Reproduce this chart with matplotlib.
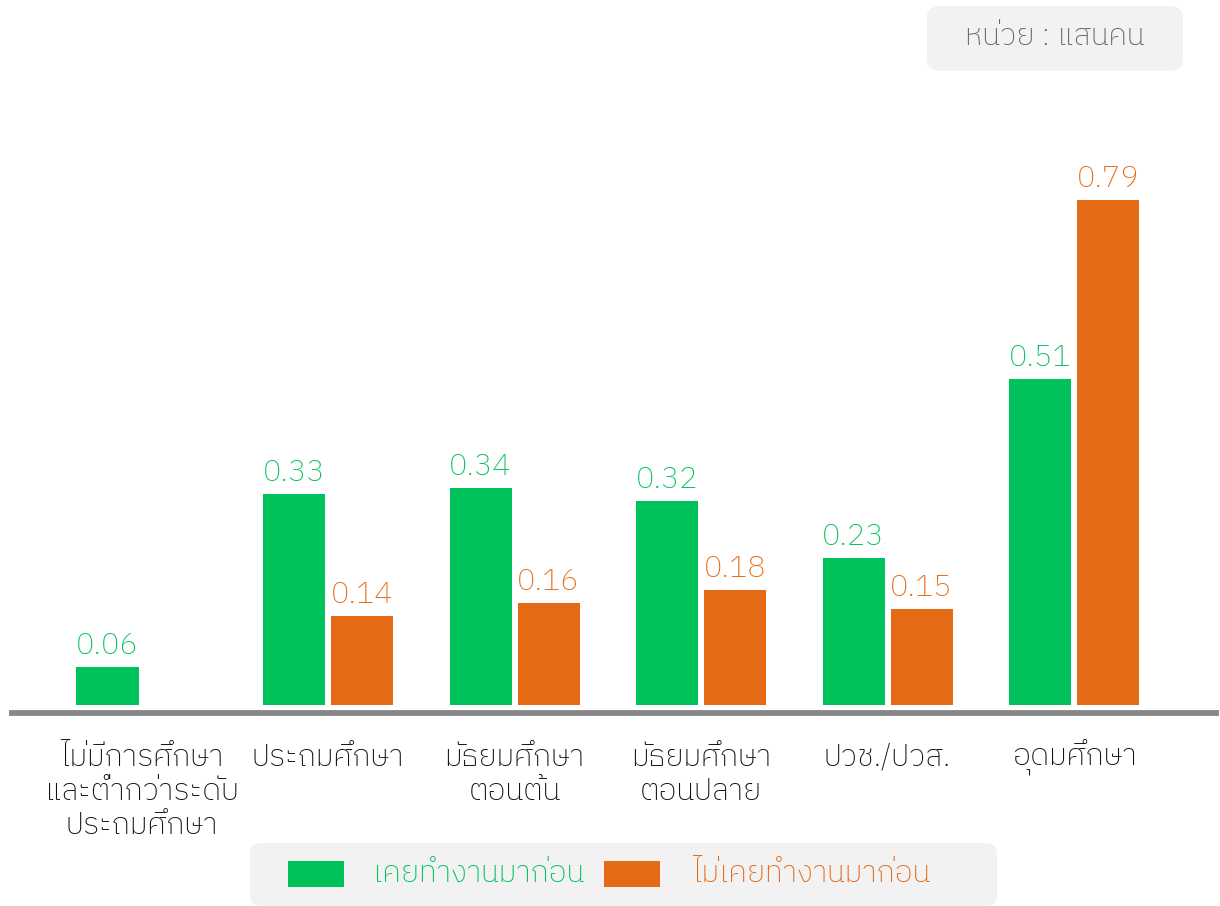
import matplotlib
matplotlib.use("Agg")
import matplotlib.pyplot as plt
from matplotlib.patches import FancyBboxPatch, Rectangle

# ---------------- data ----------------
categories = ["ไม่มีการศึกษา\nและต่ำกว่าระดับ\nประถมศึกษา", "ประถมศึกษา",
              "มัธยมศึกษา\nตอนต้น", "มัธยมศึกษา\nตอนปลาย", "ปวช./ปวส.", "อุดมศึกษา"]
worked_before = [0.06, 0.33, 0.34, 0.32, 0.23, 0.51]
never_worked = [None, 0.14, 0.16, 0.18, 0.15, 0.79]
series_names = ["เคยทำงานมาก่อน", "ไม่เคยทำงานมาก่อน"]
unit_text = "หน่วย : แสนคน"

plt.rcParams['font.family'] = ['IBM Plex Sans Thai', 'Anuphan', 'DejaVu Sans']
plt.rcParams['font.weight'] = 'light'

GREEN = "#00C25A"
ORANGE = "#E56A15"
FS = 22

fig = plt.figure(figsize=(12.2, 9.06), dpi=100)
ax = fig.add_axes([0, 0, 1, 1])
W, H = 1220, 906
# pixel->data mapping: group i center at 141.5 + 186.5*i px ; y=0 at 705 px, 639 px per unit
PX = 186.5
PY = 639.0
ax.set_xlim((0 - 141.5) / PX, (W - 141.5) / PX)
ax.set_ylim((705 - H) / PY, 705 / PY)
ax.axis("off")

bw = 62 / PX
off = 34 / PX
for i, v in enumerate(worked_before):
    ax.bar(i - off, v, width=bw, color=GREEN, align="center")
    ax.text(i - off, v + 13 / PY, f"{v:.2f}", ha="center", va="baseline",
            color=GREEN, fontsize=FS)
for i, v in enumerate(never_worked):
    if v is None:
        continue
    ax.bar(i + off, v, width=bw, color=ORANGE, align="center")
    ax.text(i + off, v + 13 / PY, f"{v:.2f}", ha="center", va="baseline",
            color=ORANGE, fontsize=FS)

# baseline
ax.plot([(9 - 141.5) / PX, (1219 - 141.5) / PX], [-8 / PY, -8 / PY],
        color="#888888", lw=4.2, solid_capstyle="butt")

# category labels
for i, c in enumerate(categories):
    for k, line in enumerate(c.split("\n")):
        ax.text(i, -(766 - 705 + 34 * k) / PY, line, ha="center", va="baseline",
                fontsize=FS, color="#111111")

# unit box
fig.patches.append(FancyBboxPatch((927 / W, 1 - 71 / H), 256 / W, 65 / H,
                                  boxstyle="round,pad=0,rounding_size=0.012",
                                  transform=fig.transFigure, facecolor="#F2F2F2",
                                  edgecolor="none"))
fig.text(1055 / W, 1 - 45 / H, unit_text, ha="center", va="baseline",
         fontsize=FS, color="#666666")

# legend box
fig.patches.append(FancyBboxPatch((250 / W, 0), 747 / W, 63 / H,
                                  boxstyle="round,pad=0,rounding_size=0.01",
                                  transform=fig.transFigure, facecolor="#F2F2F2",
                                  edgecolor="none"))
fig.patches.append(Rectangle((288 / W, 1 - 887 / H), 56 / W, 26 / H,
                             transform=fig.transFigure, facecolor=GREEN, edgecolor="none"))
fig.patches.append(Rectangle((604 / W, 1 - 887 / H), 56 / W, 26 / H,
                             transform=fig.transFigure, facecolor=ORANGE, edgecolor="none"))
fig.text(373 / W, 1 - 882 / H, series_names[0], ha="left", va="baseline",
         fontsize=FS, color=GREEN)
fig.text(692 / W, 1 - 882 / H, series_names[1], ha="left", va="baseline",
         fontsize=FS, color=ORANGE)

fig.savefig("out.png", dpi=100)
